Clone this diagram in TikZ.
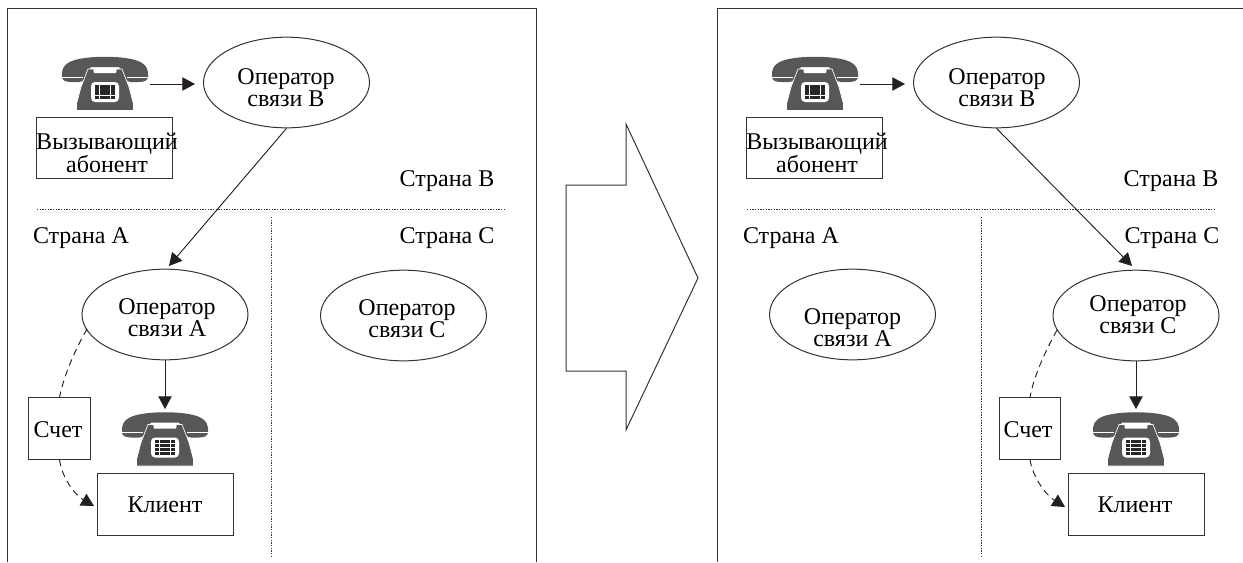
\documentclass[tikz,border=0pt]{standalone}
\usepackage{fontspec}
\setmainfont{Liberation Serif}
\usetikzlibrary{arrows.meta,shapes.geometric}
\definecolor{ln}{HTML}{333333}
\definecolor{hd}{HTML}{231F20}
\definecolor{ph}{HTML}{575757}
\tikzset{
 x=0.75pt,y=-0.75pt,
 frame/.style={draw=ln,line width=0.75pt},
 oval/.style={ellipse,draw=ln,line width=0.75pt,minimum width=124.5pt,minimum height=68pt,inner sep=0pt},
 boxn/.style={rectangle,draw=ln,line width=0.75pt,inner sep=0pt},
 lbl/.style={inner sep=0pt,align=center,font=\fontsize{18}{16.5}\selectfont},
 sep/.style={draw=ln,line width=0.75pt,dash pattern=on 1pt off 1pt},
 link/.style={draw=hd,line width=0.7pt,-{Triangle[length=9.5pt,width=10pt]}},
 billplain/.style={draw=hd,line width=0.7pt,dash pattern=on 5pt off 3.5pt},
 billlink/.style={billplain,-{Triangle[length=9.5pt,width=10pt]}},
 phone/.pic={
  \fill[ph] (-43,17) .. controls (-43,8) and (-36,4) .. (-26,2) .. controls (-12,-1) and (12,-1) .. (26,2) .. controls (36,4) and (43,8) .. (43,17) -- (43,20) .. controls (43,23) and (40,25) .. (34,25) -- (26,25) .. controls (22,25) and (19,22) .. (17,14) -- (14,10) -- (-14,10) -- (-17,14) .. controls (-19,22) and (-22,25) .. (-26,25) -- (-34,25) .. controls (-40,25) and (-43,23) .. (-43,20) -- cycle;
  \draw[white,line width=0.6pt] (-43,20) -- (-22,20) (22,20) -- (43,20);
  \filldraw[fill=ph,draw=white,line width=0.5pt] (-17,12) -- (17,12) -- (24,30) -- (28.5,47) -- (28.5,53.5) -- (-28.5,53.5) -- (-28.5,47) -- (-24,30) -- cycle;
  \fill[white] (-12,11) -- (12,11) -- (11,16) -- (-11,16) -- cycle;
  \fill[white,rounded corners=3pt] (-14,25) rectangle (14,45);
  \foreach \r in {0,1,2,3}{\foreach \c in {0,1,2,3}{\fill[black!85] (-10.5+5.4*\c,27.5+3.9*\r) rectangle ++(4.6,3.1);}}
 }
}
\begin{document}
\begin{tikzpicture}
\useasboundingbox (0,0) rectangle (1243,562);
\fill[white] (0,0) rectangle (1243,562);
% left panel
\draw[frame] (7,562) -- (7,8) -- (536,8) -- (536,562);
\pic at (105,57) {phone};
\node[oval] (bL) at (286.5,82.5) {};
\node[lbl] (tbL) at (286,88) {Оператор\\связи В};
\node[boxn,minimum width=102.5pt,minimum height=46pt] (callL) at (104.5,148) {};
\node[lbl] (tcallL) at (107,153) {Вызывающий\\абонент};
\coordinate (phL) at (150,84);
\coordinate (phLe) at (195,84);
\draw[link] (phL) -- (phLe);
\node[lbl] (cbL) at (447,181) {Страна В};
\coordinate (hLa) at (37,209); \coordinate (hLb) at (505,209);
\draw[sep] (hLa) -- (hLb);
\coordinate (vLa) at (271,217); \coordinate (vLb) at (271,557);
\draw[sep] (vLa) -- (vLb);
\node[lbl] (caL) at (81,238) {Страна А};
\node[lbl] (ccL) at (447,238) {Страна С};
\node[oval] (aL) at (165,314.5) {};
\node[lbl] (taL) at (167,318) {Оператор\\связи А};
\node[oval] (cL) at (403.5,315.5) {};
\node[lbl] (tcL) at (407,319) {Оператор\\связи С};
\coordinate (tipL) at (169,266);
\draw[link] (bL.south) -- (tipL);
\pic at (165,412.5) {phone};
\coordinate (phLt) at (165,409);
\draw[link] (aL.south) -- (phLt);
\node[boxn,minimum width=46pt,minimum height=46pt] (sL) at (59.5,428.5) {};
\node[lbl] (tsL) at (58,430) {Счет};
\node[boxn,minimum width=102pt,minimum height=46pt] (kL) at (165,504.5) {};
\node[lbl] (tkL) at (165,504.5) {Клиент};
\coordinate (dL) at (87,329);
\draw[billplain] (dL) .. controls (75,350) and (64,375) .. (sL.north);
\coordinate (dLe) at (94,506);
\draw[billlink] (sL.south) .. controls (62,478) and (75,495) .. (dLe);
% arrow
\draw[frame] (566,185) -- (626,185) -- (626,124) -- (698,278) -- (626,430) -- (626,371) -- (566,371) -- cycle;
% right panel
\draw[frame] (717,562) -- (717,8) -- (1243,8);
\pic at (815,57) {phone};
\node[oval] (bR) at (996.5,82.5) {};
\node[lbl] (tbR) at (997,88) {Оператор\\связи В};
\node[boxn,minimum width=102.5pt,minimum height=46pt] (callR) at (814.5,148) {};
\node[lbl] (tcallR) at (817,153) {Вызывающий\\абонент};
\coordinate (phR) at (860,84);
\coordinate (phRe) at (905,84);
\draw[link] (phR) -- (phRe);
\node[lbl] (cbR) at (1171,181) {Страна В};
\coordinate (hRa) at (747,209); \coordinate (hRb) at (1215,209);
\draw[sep] (hRa) -- (hRb);
\coordinate (vRa) at (981,217); \coordinate (vRb) at (981,557);
\draw[sep] (vRa) -- (vRb);
\node[lbl] (caR) at (791,238) {Страна А};
\node[lbl] (ccR) at (1172,238) {Страна С};
\node[oval] (aR) at (852.5,314.5) {};
\node[lbl] (taR) at (852.5,328) {Оператор\\связи А};
\node[oval] (cR) at (1136,315.5) {};
\node[lbl] (tcR) at (1138,315) {Оператор\\связи С};
\coordinate (tipR) at (1132,266);
\draw[link] (bR.south) -- (tipR);
\pic at (1136,412.5) {phone};
\coordinate (phRt) at (1136,409);
\draw[link] (cR.south) -- (phRt);
\node[boxn,minimum width=46pt,minimum height=46pt] (sR) at (1030,428.5) {};
\node[lbl] (tsR) at (1028,430) {Счет};
\node[boxn,minimum width=102pt,minimum height=46pt] (kR) at (1136,504.5) {};
\node[lbl] (tkR) at (1135,504.5) {Клиент};
\coordinate (dR) at (1057,330);
\draw[billplain] (dR) .. controls (1046,350) and (1034,375) .. (sR.north);
\coordinate (dRe) at (1065,507);
\draw[billlink] (sR.south) .. controls (1033,478) and (1046,495) .. (dRe);
\end{tikzpicture}
\end{document}
